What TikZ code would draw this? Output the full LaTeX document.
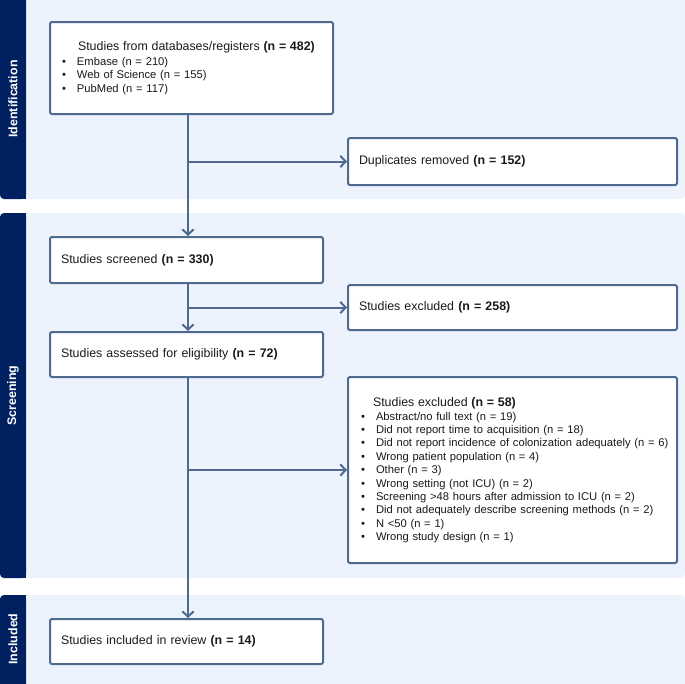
\documentclass[tikz,border=0pt]{standalone}
\usepackage{fontspec}
\setmainfont{Liberation Sans}
\usetikzlibrary{arrows.meta}
\definecolor{panelbg}{HTML}{EDF3FD}
\definecolor{navy}{HTML}{002060}
\definecolor{edge}{HTML}{4F6A8F}
\definecolor{ink}{HTML}{1A1A1A}
\newcommand\bitem[1]{\makebox[11.25pt][l]{•}\mbox{#1}}
\begin{document}
\begin{tikzpicture}[x=0.75pt,y=-0.75pt,
  box/.style={draw=edge, line width=1.5pt, fill=white, rounded corners=1.5pt,
    align=left, inner xsep=8.25pt, inner ysep=0pt, text=ink,
    font=\fontsize{9.3}{11}\selectfont},
  listbox/.style={box, font=\fontsize{8.4}{10.05}\selectfont},
  arr/.style={draw=edge, line width=1.5pt, -{Straight Barb[length=4pt,width=8.5pt]}},
  side/.style={text=white, font=\bfseries\fontsize{9.3}{11}\selectfont, rotate=90},
  panel/.style={fill=panelbg, rounded corners=3pt},
  bar/.style={fill=navy, rounded corners=3pt}
]
\useasboundingbox (0,0) rectangle (685,683);
\clip (0,0) rectangle (685,683);

% panels
\path[panel] (0,-10) rectangle (685,199);
\path[bar] (0,-10) rectangle (26,199);
\fill[navy] (15,-10) rectangle (26,199);
\path[panel] (0,213) rectangle (685,578);
\path[bar] (0,213) rectangle (26,578);
\fill[navy] (15,213) rectangle (26,578);
\path[panel] (0,595) rectangle (685,700);
\path[bar] (0,595) rectangle (26,700);
\fill[navy] (15,595) rectangle (26,700);

\node[side] (lid) at (13,99) {Identification};
\node[side] (lsc) at (13,395.5) {Screening};
\node[side] (lin) at (13,639) {Included};

% boxes
\node[listbox, minimum width=212.25pt, minimum height=69pt, inner xsep=9pt, text width=194.25pt] (b1) at (191.5,68)
  {\hspace*{12pt}{\fontsize{9.3}{10.05}\selectfont Studies from databases/registers \textbf{(n = 482)}}\\[1pt]
   \bitem{Embase (n = 210)}\\
   \bitem{Web of Science (n = 155)}\\
   \bitem{PubMed (n = 117)}};

\node[box, minimum width=246.75pt, minimum height=35.25pt, text width=230.25pt] (dup) at (512.5,161.5)
  {Duplicates removed \textbf{(n = 152)}};

\node[box, minimum width=204.75pt, minimum height=34.5pt, text width=188.25pt] (scr) at (186.5,260)
  {Studies screened \textbf{(n = 330)}};

\node[box, minimum width=246.75pt, minimum height=33.75pt, text width=230.25pt] (ex1) at (512.5,307.5)
  {Studies excluded \textbf{(n = 258)}};

\node[box, minimum width=204.75pt, minimum height=33.75pt, text width=188.25pt] (asd) at (186.5,354.5)
  {Studies assessed for eligibility \textbf{(n = 72)}};

\node[listbox, minimum width=246.75pt, minimum height=139.5pt, inner xsep=9.75pt, text width=227.25pt] (ex2) at (512.5,470)
  {\hspace*{9pt}{\fontsize{9.3}{10.05}\selectfont Studies excluded \textbf{(n = 58)}}\\[0.5pt]
   \bitem{Abstract/no full text (n = 19)}\\
   \bitem{Did not report time to acquisition (n = 18)}\\
   \bitem{Did not report incidence of colonization adequately (n = 6)}\\
   \bitem{Wrong patient population (n = 4)}\\
   \bitem{Other (n = 3)}\\
   \bitem{Wrong setting (not ICU) (n = 2)}\\
   \bitem{Screening >48 hours after admission to ICU (n = 2)}\\
   \bitem{Did not adequately describe screening methods (n = 2)}\\
   \bitem{N <50 (n = 1)}\\
   \bitem{Wrong study design (n = 1)}};

\node[box, minimum width=204.75pt, minimum height=33.75pt, text width=188.25pt] (inc) at (186.5,641.5)
  {Studies included in review \textbf{(n = 14)}};

% connectors
\coordinate (mx) at (188,0);
\draw[arr] (b1.south -| mx) -- (scr.north -| mx);
\draw[arr] (mx |- dup.west) -- (dup.west);
\draw[arr] (scr.south -| mx) -- (asd.north -| mx);
\draw[arr] (mx |- ex1.west) -- (ex1.west);
\draw[arr] (asd.south -| mx) -- (inc.north -| mx);
\draw[arr] (mx |- ex2.west) -- (ex2.west);
\end{tikzpicture}
\end{document}
